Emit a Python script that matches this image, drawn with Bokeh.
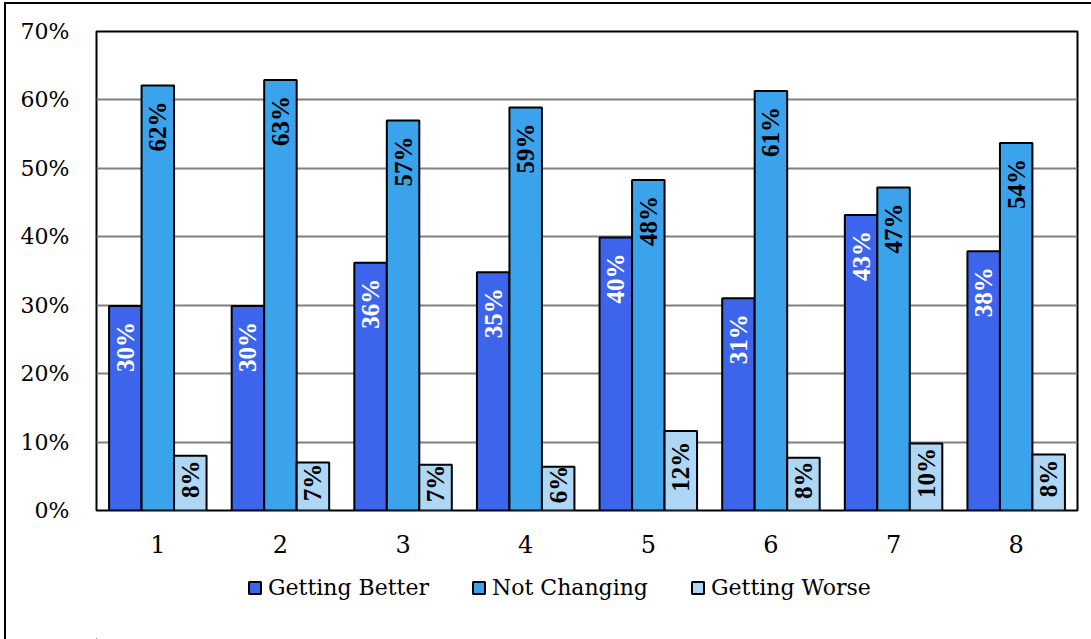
from bokeh.plotting import figure
from bokeh.layouts import column
from bokeh.models import ColumnDataSource, Legend, LegendItem, FixedTicker, Range1d
from bokeh.core.properties import value
from bokeh.embed import file_html
from bokeh.resources import INLINE

# ---- data ----
groups = [1, 2, 3, 4, 5, 6, 7, 8]
group_labels = ["1", "2", "3", "4", "5", "6", "7", "8"]
getting_better = [29.9, 29.9, 36.2, 34.8, 39.9, 31.0, 43.2, 37.9]
not_changing = [62.1, 62.9, 57.0, 58.9, 48.3, 61.3, 47.2, 53.7]
getting_worse = [8.0, 7.0, 6.7, 6.4, 11.6, 7.7, 9.8, 8.2]
series_names = ["Getting Better", "Not Changing", "Getting Worse"]
series_colors = ["#3d65ec", "#3ba3ec", "#aed6f5"]
label_colors = ["white", "black", "black"]
y_ticks = [0, 10, 20, 30, 40, 50, 60, 70]

OX, OY = 6, 4            # offset caused by outer border + margin
W = 1091 - OX
H_TOTAL = 639 - OY
ML, MR, MT = 96 - OX, 1091 - 1077, 31 - OY
FRAME_H = 479
H1 = 560 - OY
H2 = H_TOTAL - H1
MB = H1 - MT - FRAME_H
YMAX = 70
px_per_unit = FRAME_H / YMAX
LABEL_FONT = value("Liberation Serif")
AXIS_FONT = "DejaVu Serif"

p = figure(width=W, height=H1, output_backend="svg", toolbar_location=None,
           x_range=Range1d(0.5, 8.5), y_range=Range1d(0, YMAX),
           min_border_left=ML, min_border_right=MR, min_border_top=MT,
           min_border_bottom=MB)
p.background_fill_color = "white"
p.border_fill_color = "white"
p.outline_line_color = "black"
p.outline_line_width = 2

p.xgrid.grid_line_color = None
p.ygrid.ticker = FixedTicker(ticks=y_ticks)
p.ygrid.grid_line_color = "#808080"
p.ygrid.grid_line_width = 2

p.yaxis.ticker = FixedTicker(ticks=y_ticks)
p.yaxis.major_label_overrides = {t: f"{t}%" for t in y_ticks}
p.xaxis.ticker = FixedTicker(ticks=groups)
p.xaxis.major_label_overrides = {g: l for g, l in zip(groups, group_labels)}
for ax in (p.xaxis[0], p.yaxis[0]):
    ax.axis_line_color = None
    ax.major_tick_line_color = None
    ax.minor_tick_line_color = None
    ax.major_tick_out = 0
    ax.major_tick_in = 0
    ax.major_label_text_font = AXIS_FONT
    ax.major_label_text_font_size = "22px"
    ax.major_label_text_color = "black"
p.xaxis.major_label_text_font_size = "24px"
p.yaxis.major_label_standoff = 27
p.xaxis.major_label_standoff = 24

bw = 0.265
offsets = [-bw, 0.0, bw]
all_vals = [getting_better, not_changing, getting_worse]
for k, (vals, col, lc, off) in enumerate(zip(all_vals, series_colors, label_colors, offsets)):
    xs = [g + off for g in groups]
    labels = [f"{round(v)}%" for v in vals]
    if k < 2:
        ly = [v - 16 / px_per_unit for v in vals]
        align = "right"
    else:
        ly = [v / 2 + 4 / px_per_unit for v in vals]
        align = "center"
    src = ColumnDataSource(dict(x=xs, top=vals, lab=labels, ly=ly))
    p.vbar(x="x", top="top", width=bw, bottom=0, source=src,
           fill_color=col, line_color="black", line_width=2)
    p.text(x="x", y="ly", text="lab", source=src, angle=1.5708,
           text_align=align, text_baseline="middle",
           text_font=LABEL_FONT, text_font_size="25px", text_font_style="bold",
           text_color=lc)

# ---- legend strip below the chart ----
q = figure(width=W, height=H2, output_backend="svg", toolbar_location=None,
           x_range=Range1d(0, 1), y_range=Range1d(0, 1),
           x_axis_location=None, y_axis_location=None,
           min_border_left=0, min_border_right=0, min_border_top=0,
           min_border_bottom=0)
q.grid.visible = False
q.outline_line_color = None
q.background_fill_color = "white"
q.border_fill_color = "white"
dummy = ColumnDataSource(dict(x=[-100.0], top=[-100.0], bottom=[-101.0]))
leg_renderers = [q.vbar(x="x", top="top", bottom="bottom", width=0.1, source=dummy,
                        fill_color=c, line_color="black", line_width=2)
                 for c in series_colors]
legend = Legend(items=[LegendItem(label=n, renderers=[r]) for n, r in zip(series_names, leg_renderers)],
                location=(247 - 96, 39), orientation="horizontal",
                padding=0, margin=0, spacing=42,
                glyph_width=15, glyph_height=15, label_standoff=6,
                label_height=26,
                label_text_font=AXIS_FONT, label_text_font_size="22px",
                label_text_color="black",
                border_line_color=None, background_fill_alpha=0)
q.add_layout(legend, "center")

layout = column(p, q, spacing=0)
layout.styles = {"border-top": "2px solid black", "border-left": "2px solid black",
                 "margin-left": "4px", "margin-top": "2px"}
open("out.html", "w").write(file_html(layout, INLINE))
